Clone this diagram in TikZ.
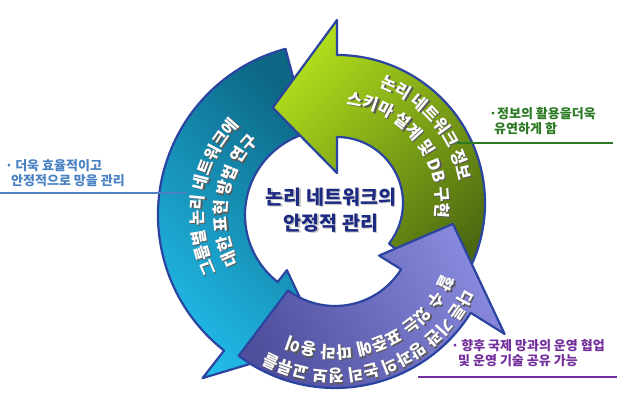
\documentclass[tikz,border=0pt]{standalone}
\usepackage{fontspec}
\newfontfamily\kr{Noto Sans CJK KR}
\usetikzlibrary{decorations.text}
\definecolor{limegreen}{HTML}{AEDC1C}
\definecolor{olivegreen}{HTML}{4A6610}
\definecolor{tealdark}{HTML}{0C6684}
\definecolor{cyanlight}{HTML}{22BDEB}
\definecolor{lavender}{HTML}{8A8ADE}
\definecolor{slateblue}{HTML}{4F4F9E}
\definecolor{rimblue}{HTML}{2A44A0}
\definecolor{navytext}{HTML}{1C2A82}
\definecolor{bluelabel}{HTML}{4A82C4}
\definecolor{greenlabel}{HTML}{2B7A23}
\definecolor{purplelabel}{HTML}{73309C}
\newcommand{\arrowfont}{\kr\bfseries\fontsize{16.5}{16.5}\selectfont}
% text on an arc: radius, start angle, end angle, text
\newcommand{\ringtext}[4]{%
  \path[decorate, decoration={text along path, text align=center,
    text={|\arrowfont\color{black!65}|#4}}]
    ([shift={(1.2,-1.2)}]#2:#1) arc[start angle=#2, end angle=#3, radius=#1];
  \path[decorate, decoration={text along path, text align=center,
    text={|\arrowfont\color{white}|#4}}]
    (#2:#1) arc[start angle=#2, end angle=#3, radius=#1];}

\tikzset{
  ringarrow/.style={draw=rimblue, line width=2.2pt, line join=round},
  greenarrow/.style={ringarrow, shade, top color=limegreen, bottom color=olivegreen, shading angle=45},
  cyanarrow/.style={ringarrow, shade, top color=tealdark, bottom color=cyanlight, shading angle=-45},
  purplearrow/.style={ringarrow, shade, top color=lavender, bottom color=slateblue, shading angle=-60},
  lbl/.style={font=\kr\bfseries\fontsize{13}{15}\selectfont, align=left, inner sep=0pt, anchor=west},
  underline/.style={line width=1.1pt}
}

\begin{document}
\begin{tikzpicture}[x=1pt,y=1pt]
\fill[white] (0,0) rectangle (627,402);
\useasboundingbox (0,0) rectangle (627,402);

% cyan arrow, left side
\begin{scope}[shift={(330,187)}]
\path[cyanarrow] (105:85) -- (105:172) arc[start angle=105, end angle=232, radius=172]
  -- (232:207) -- (266:128) -- (232:70) -- (232:85) arc[start angle=232, end angle=105, radius=85] -- cycle;
\ringtext{127}{231}{111}{그룹별 논리 네트워크에}
\ringtext{103}{231}{111}{대한 표현 방법 연구}
\end{scope}

% green arrow, top right
\begin{scope}[shift={(337,199)}]
\path[greenarrow] (-38:66) -- (-38:148) arc[start angle=-38, end angle=90, radius=148]
  -- (90:183) -- (124:115) -- (90:30) -- (90:66) arc[start angle=90, end angle=-38, radius=66] -- cycle;
\ringtext{124}{100}{-20}{논리 네트워크 정보}
\ringtext{99}{98}{-22}{스키마 설계 및 DB 구현}
\end{scope}

% purple arrow, bottom
\begin{scope}[shift={(335,174)}]
\path[purplearrow] (233:78) -- (233:160) arc[start angle=233, end angle=328, radius=160]
  -- (328:200) -- (2:118) -- (328:52) -- (328:78) arc[start angle=328, end angle=233, radius=78] -- cycle;
\ringtext{142}{-12}{-132}{다른 기관 망과의 논리 정보 교류를}
\ringtext{118}{-8}{-128}{할 수 있는 표준에 따라 용이}
\end{scope}

% centre
\node[font=\kr\bfseries\fontsize{19.5}{26}\selectfont, text=black!22, align=center] at (332.2,190.8) {논리 네트워크의\\안정적 관리};
\node[font=\kr\bfseries\fontsize{19.5}{26}\selectfont, text=navytext, align=center] (core) at (331,192) {논리 네트워크의\\안정적 관리};

% side notes
\node[lbl, text=bluelabel] (effL) at (5,228.5) {·\,더욱 효율적이고\\\hspace*{6pt}안정적으로 망을 관리};
\node[lbl, text=greenlabel] (useR) at (489,280.5) {·정보의 활용을더욱\\\hspace*{5pt}유연하게 함};
\node[lbl, text=purplelabel] (coopR) at (451,48.5) {·\,향후 국제 망과의 운영 협업\\\hspace*{7pt}및 운영 기술 공유 가능};

\coordinate (effA) at (0,209);
\coordinate (effB) at (187,209);
\coordinate (useA) at (457,259);
\coordinate (useB) at (613,259);
\coordinate (coopA) at (418,25);
\coordinate (coopB) at (617,25);
\draw[underline, bluelabel] (effA) -- (effB);
\draw[underline, greenlabel] (useA) -- (useB);
\draw[underline, purplelabel] (coopA) -- (coopB);
\end{tikzpicture}
\end{document}
